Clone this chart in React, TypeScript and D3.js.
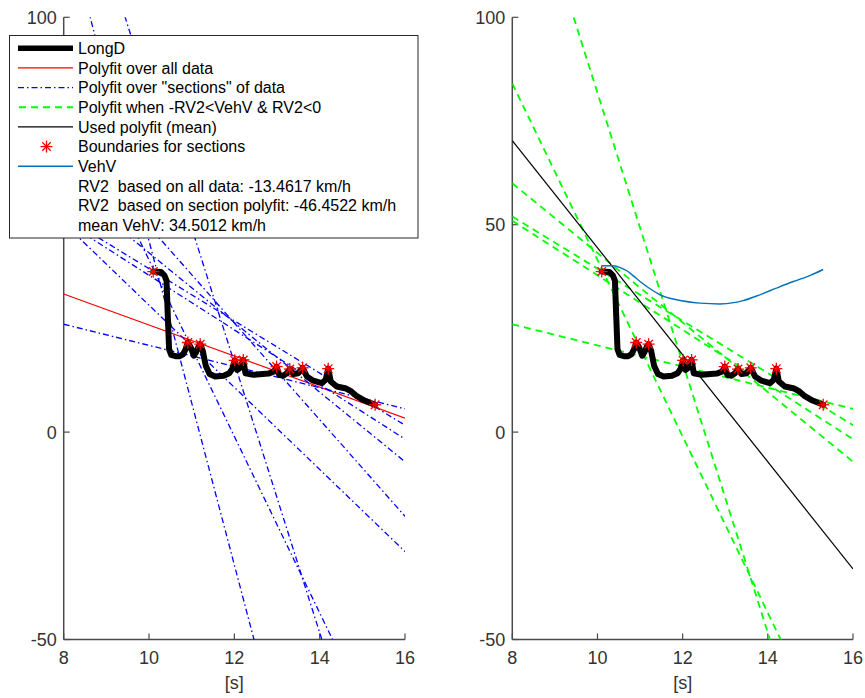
import React from "react";
import * as d3 from "d3";

// Longitudinal distance signal (time in s, value)
const longdTime = [10.10, 10.28, 10.36, 10.41, 10.44, 10.47, 10.52, 10.62, 10.72, 10.80, 10.86, 10.91, 10.98, 11.05, 11.10, 11.16, 11.20, 11.26, 11.33, 11.42, 11.55, 11.75, 11.88, 11.95, 12.01, 12.07, 12.14, 12.21, 12.26, 12.45, 12.80, 12.93, 12.99, 13.05, 13.15, 13.24, 13.30, 13.38, 13.50, 13.60, 13.70, 13.85, 14.05, 14.14, 14.20, 14.26, 14.40, 14.62, 14.74, 14.85, 15.05, 15.30];
const longdValue = [38.7, 38.6, 37.8, 36.5, 28.0, 20.0, 18.6, 18.3, 18.3, 18.8, 20.0, 21.6, 20.4, 18.4, 19.2, 20.6, 21.2, 19.6, 16.0, 14.0, 13.4, 13.6, 14.2, 15.2, 17.3, 15.0, 15.6, 17.4, 14.2, 13.8, 14.1, 14.6, 15.8, 13.8, 13.6, 14.3, 15.2, 14.0, 14.2, 15.5, 13.4, 12.4, 11.8, 12.6, 15.3, 12.2, 11.0, 10.5, 9.8, 8.8, 7.6, 6.6];

// Section boundaries
const boundaryTime = [10.10, 10.91, 11.20, 12.01, 12.21, 12.99, 13.30, 13.60, 14.20, 15.30];
const boundaryValue = [38.7, 21.6, 21.2, 17.3, 17.4, 15.8, 15.2, 15.5, 15.3, 6.6];

// Vehicle speed
const vehvTime = [10.10, 10.36, 10.55, 10.69, 10.85, 11.00, 11.20, 11.47, 11.86, 12.41, 12.87, 13.20, 13.42, 13.81, 14.20, 14.60, 15.00, 15.30];
const vehvValue = [40.1, 40.1, 39.6, 38.9, 37.6, 36.3, 34.8, 33.1, 31.9, 31.1, 30.9, 31.2, 31.7, 33.1, 34.7, 36.3, 37.8, 39.2];

// First-order polyfits per section: y = slope * t + intercept
const sectionSlope = [-21.27, -2.55, -32.54, -39.06, -11.65, -9.9, -8.39, -6.58, -6.29];
const sectionIntercept = [254.2, 46.4, 407.2, 436.7, 166.1, 129.6, 127.1, 103.6, 102.3];
const sectionAccepted = [true, true, true, false, false, false, true, true, true];

// Summary values (km/h)
const rv2AllData = -13.4617;
const rv2Section = -46.4522;
const meanVehV = 34.5012;
const allDataIntercept = 63.2;

const xTicks = [8, 10, 12, 14, 16];
const yTicks = [-50, 0, 50, 100];
const xDomain = [8, 16];
const yDomain = [-50, 100];

const legendLabels = [
  "LongD",
  "Polyfit over all data",
  "Polyfit over \"sections\" of data",
  "Polyfit when -RV2<VehV & RV2<0",
  "Used polyfit (mean)",
  "Boundaries for sections",
  "VehV",
  `RV2  based on all data: ${rv2AllData.toFixed(4)} km/h`,
  `RV2  based on section polyfit: ${rv2Section.toFixed(4)} km/h`,
  `mean VehV: ${meanVehV.toFixed(4)} km/h`,
];

const AXIS = "#4a4a4a";
const FONT = "'Liberation Sans', Arial, Helvetica, sans-serif";
const BLUE_DASHDOT = "6,3,1.5,3";
const GREEN_DASH = "7,5";

const y = d3.scaleLinear().domain(yDomain).range([639.5, 17.3]);

type Sc = d3.ScaleLinear<number, number>;

function Star({ cx, cy, r = 6 }: { cx: number; cy: number; r?: number }) {
  const d = r * Math.SQRT1_2;
  return (
    <g stroke="#ff0000" strokeWidth={1.3}>
      <line x1={cx - r} y1={cy} x2={cx + r} y2={cy} />
      <line x1={cx} y1={cy - r} x2={cx} y2={cy + r} />
      <line x1={cx - d} y1={cy - d} x2={cx + d} y2={cy + d} />
      <line x1={cx - d} y1={cy + d} x2={cx + d} y2={cy - d} />
    </g>
  );
}

function fitLine(x: Sc, slope: number, intercept: number) {
  const [a, b] = xDomain;
  return { x1: x(a), y1: y(slope * a + intercept), x2: x(b), y2: y(slope * b + intercept) };
}

function Axes({ x }: { x: Sc }) {
  const [x0, x1] = x.range();
  const [yb, yt] = y.range();
  return (
    <g fontFamily={FONT} fill="#333">
      <line x1={x0} y1={yb} x2={x1} y2={yb} stroke={AXIS} strokeWidth={1.5} />
      <line x1={x0} y1={yb} x2={x0} y2={yt} stroke={AXIS} strokeWidth={1.5} />
      {xTicks.map((t) => (
        <g key={t}>
          <line x1={x(t)} x2={x(t)} y1={yb} y2={yb - 6} stroke={AXIS} strokeWidth={1.2} />
          <text x={x(t)} y={664} textAnchor="middle" fontSize={18}>{t}</text>
        </g>
      ))}
      {yTicks.map((t) => (
        <g key={t}>
          <line x1={x0} x2={x0 + 6} y1={y(t)} y2={y(t)} stroke={AXIS} strokeWidth={1.2} />
          <text x={x0 - 7} y={y(t) + 6.5} textAnchor="end" fontSize={18}>{t}</text>
        </g>
      ))}
      <text x={x((xDomain[0] + xDomain[1]) / 2)} y={689} textAnchor="middle" fontSize={18}>[s]</text>
    </g>
  );
}

function Panel({ x, id, left }: { x: Sc; id: string; left: boolean }) {
  const [x0, x1] = x.range();
  const [yb, yt] = y.range();
  const longd = d3.line<number>().x((_, i) => x(longdTime[i])).y((v) => y(v));
  const vehv = d3.line<number>().x((_, i) => x(vehvTime[i])).y((v) => y(v)).curve(d3.curveMonotoneX);
  const accS = sectionSlope.filter((_, i) => sectionAccepted[i]);
  const accI = sectionIntercept.filter((_, i) => sectionAccepted[i]);
  const usedIntercept = d3.mean(accI) as number;
  const usedSlope = rv2Section / 3.6;
  return (
    <g>
      <defs>
        <clipPath id={id}>
          <rect x={x0} y={yt} width={x1 - x0} height={yb - yt} />
        </clipPath>
      </defs>
      <Axes x={x} />
      <g clipPath={`url(#${id})`} fill="none">
        {left ? (
          <>
            <line {...fitLine(x, rv2AllData / 3.6, allDataIntercept)} stroke="#ff0000" strokeWidth={1.2} />
            {sectionSlope.map((s, i) => (
              <line key={i} {...fitLine(x, s, sectionIntercept[i])} stroke="#0000ff" strokeWidth={1.3} strokeDasharray={BLUE_DASHDOT} />
            ))}
          </>
        ) : (
          <>
            {accS.map((s, i) => (
              <line key={i} {...fitLine(x, s, accI[i])} stroke="#00ff00" strokeWidth={1.8} strokeDasharray={GREEN_DASH} />
            ))}
            <line {...fitLine(x, usedSlope, usedIntercept)} stroke="#000" strokeWidth={1.2} />
            <path d={vehv(vehvValue) || ""} stroke="#0072bd" strokeWidth={1.4} />
          </>
        )}
        <path d={longd(longdValue) || ""} stroke="#000" strokeWidth={6} strokeLinejoin="round" strokeLinecap="round" />
        {boundaryTime.map((t, i) => (
          <Star key={i} cx={x(t)} cy={y(boundaryValue[i])} />
        ))}
      </g>
    </g>
  );
}

function Legend() {
  const x0 = 9.5, y0 = 35.5, w = 408.5, h = 202.5;
  const rowY = (i: number) => 48.3 + i * 19.65;
  const sx1 = 18, sx2 = 73;
  return (
    <g fontFamily={FONT} fontSize={16} fill="#000">
      <rect x={x0} y={y0} width={w} height={h} fill="#fff" stroke="#262626" strokeWidth={1} />
      <line x1={sx1} x2={sx2} y1={rowY(0)} y2={rowY(0)} stroke="#000" strokeWidth={5.5} />
      <line x1={sx1} x2={sx2} y1={rowY(1)} y2={rowY(1)} stroke="#ff0000" strokeWidth={1.2} />
      <line x1={sx1} x2={sx2} y1={rowY(2)} y2={rowY(2)} stroke="#0000ff" strokeWidth={1.3} strokeDasharray={BLUE_DASHDOT} />
      <line x1={sx1 + 1} x2={sx2} y1={rowY(3)} y2={rowY(3)} stroke="#00ff00" strokeWidth={1.8} strokeDasharray={GREEN_DASH} />
      <line x1={sx1} x2={sx2} y1={rowY(4)} y2={rowY(4)} stroke="#000" strokeWidth={1.2} />
      <Star cx={(sx1 + sx2) / 2 + 1} cy={rowY(5)} />
      <line x1={sx1} x2={sx2} y1={rowY(6)} y2={rowY(6)} stroke="#0072bd" strokeWidth={1.4} />
      {legendLabels.map((s, i) => (
        <text key={i} x={78} y={rowY(i) + 5.7} style={{ whiteSpace: "pre" }}>{s}</text>
      ))}
    </g>
  );
}

export default function App() {
  const xLeft = d3.scaleLinear().domain(xDomain).range([63.7, 405]);
  const xRight = d3.scaleLinear().domain(xDomain).range([512.3, 853]);
  return (
    <svg width={865} height={698} style={{ position: "absolute", left: 0, top: 0, background: "#fff" }}>
      <rect width={865} height={698} fill="#fff" />
      <Panel x={xLeft} id="clipLeft" left={true} />
      <Panel x={xRight} id="clipRight" left={false} />
      <Legend />
    </svg>
  );
}
